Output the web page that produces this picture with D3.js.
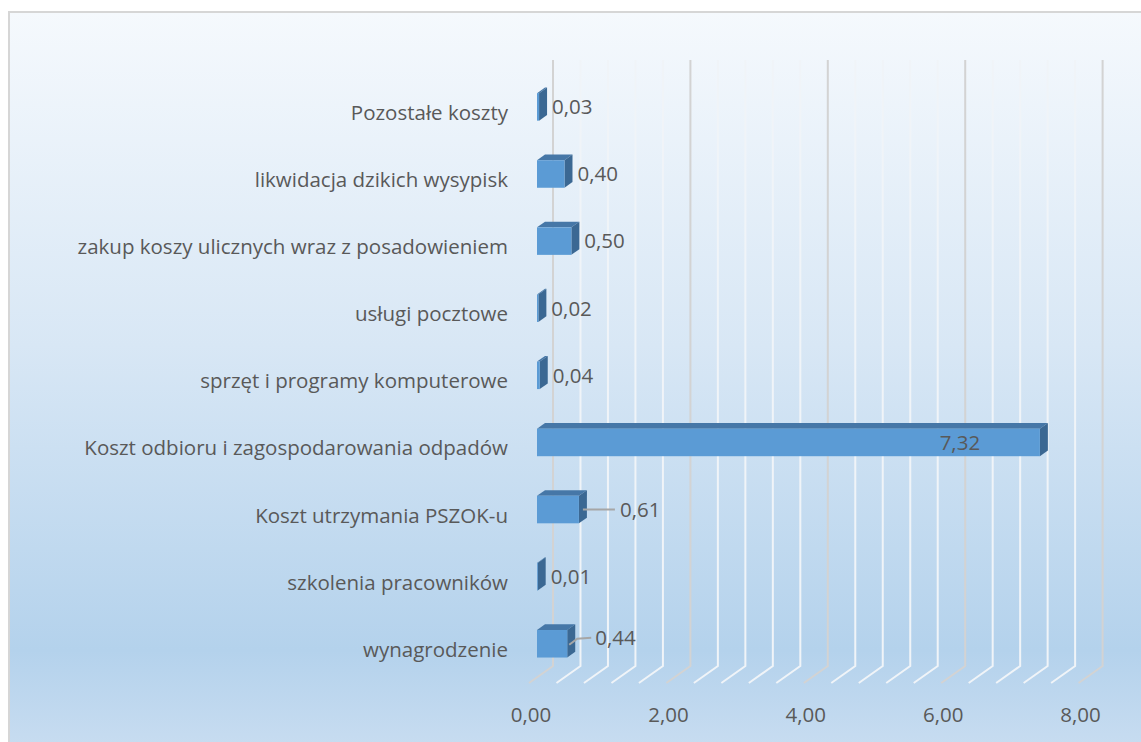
<!DOCTYPE html>
<html>
<head>
<meta charset="utf-8">
<script src="https://cdn.jsdelivr.net/npm/d3@7"></script>
<style>
  html, body { margin: 0; padding: 0; background: #fff; }
  svg text { font-family: "Open Sans", sans-serif; fill: #595959; }
</style>
</head>
<body>
<div id="chart"></div>
<script>
// data, bottom to top as in the picture
const categories = [
  "wynagrodzenie",
  "szkolenia pracowników",
  "Koszt utrzymania PSZOK-u",
  "Koszt odbioru i zagospodarowania odpadów",
  "sprzęt i programy komputerowe",
  "usługi pocztowe",
  "zakup koszy ulicznych wraz z posadowieniem",
  "likwidacja dzikich wysypisk",
  "Pozostałe koszty"
];
const values = [0.44, 0.01, 0.61, 7.32, 0.04, 0.02, 0.50, 0.40, 0.03];
const ticks = [0, 2, 4, 6, 8];
const gridStep = 0.4;

const W = 1141, H = 742;
const fs = 20.5;
const svg = d3.select("#chart").append("svg").attr("width", W).attr("height", H);

// background
const defs = svg.append("defs");
const grad = defs.append("linearGradient").attr("id", "bg")
  .attr("x1", 0).attr("y1", 0).attr("x2", 0).attr("y2", 1);
grad.append("stop").attr("offset", "0%").attr("stop-color", "#f5f9fd");
grad.append("stop").attr("offset", "45%").attr("stop-color", "#d8e7f5");
grad.append("stop").attr("offset", "86%").attr("stop-color", "#b4d2ec");
grad.append("stop").attr("offset", "100%").attr("stop-color", "#c9ddf1");

svg.append("rect").attr("x", 9).attr("y", 12).attr("width", W).attr("height", H)
  .attr("fill", "url(#bg)").attr("stroke", "#d6d6d6").attr("stroke-width", 2);

// front floor plane scales, depth vector to the back wall
const x = d3.scaleLinear().domain([0, 8]).range([529, 1078.6]);
const y = d3.scaleBand().domain(categories).range([683, 79])
  .paddingInner(0.59).paddingOuter(0.295);
const dx = 24, dy = -17;
const floorY = 683;
const wallTop = 60;

// grid: back wall verticals + floor diagonals
const gridVals = d3.range(0, 8 + 1e-9, gridStep);
svg.append("g").selectAll("path").data(gridVals).join("path")
  .attr("d", v => {
    const xb = x(v) + dx;
    return `M${xb},${wallTop}L${xb},${floorY + dy}L${x(v)},${floorY}`;
  })
  .attr("fill", "none")
  .attr("stroke", v => Math.abs(v / 2 - Math.round(v / 2)) < 1e-6 ? "#d3d3d3" : "#f0f4f8")
  .attr("stroke-width", 2);

const fmt = v => d3.format(".2f")(v).replace(".", ",");

// tick labels
svg.append("g").selectAll("text").data(ticks).join("text")
  .attr("x", v => x(v) + 2)
  .attr("y", 722)
  .attr("text-anchor", "middle")
  .attr("font-size", fs)
  .text(fmt);

// category labels
svg.append("g").selectAll("text").data(categories).join("text")
  .attr("x", 508)
  .attr("y", d => y(d) + y.bandwidth() / 2)
  .attr("dy", "0.36em")
  .attr("text-anchor", "end")
  .attr("font-size", fs)
  .text(d => d);

// 3d bars: front face at 1/3 depth, back at 2/3
const bd = { x: dx / 3, y: dy / 3 };
const bars = svg.append("g").selectAll("g")
  .data(categories.map((c, i) => ({ c, v: values[i] })))
  .join("g")
  .attr("transform", `translate(${bd.x},${bd.y})`);

bars.each(function (d) {
  const g = d3.select(this);
  const x0 = x(0), x1 = x(d.v);
  const y0 = y(d.c), h = y.bandwidth();
  g.append("path")
    .attr("d", `M${x0},${y0}L${x0 + bd.x},${y0 + bd.y}L${x1 + bd.x},${y0 + bd.y}L${x1},${y0}Z`)
    .attr("fill", "#4677a7");
  g.append("path")
    .attr("d", `M${x1},${y0}L${x1 + bd.x},${y0 + bd.y}L${x1 + bd.x},${y0 + h + bd.y}L${x1},${y0 + h}Z`)
    .attr("fill", "#3b6893");
  g.append("rect")
    .attr("x", x0).attr("y", y0)
    .attr("width", Math.max(0, x1 - x0)).attr("height", h)
    .attr("fill", "#5b9bd5");
});

// value labels
bars.each(function (d) {
  const g = d3.select(this);
  const cy = y(d.c) + y.bandwidth() / 2;
  const end = x(d.v) + bd.x;
  if (d.v > 5) {
    g.append("text").attr("x", x(d.v) - 80).attr("y", cy).attr("dy", "0.36em")
      .attr("text-anchor", "middle").attr("font-size", fs).text(fmt(d.v));
    return;
  }
  let lx = end + 5;
  if (d.c === "Koszt utrzymania PSZOK-u") {
    g.append("path").attr("d", `M${end - 4},${cy}L${end + 28},${cy}`)
      .attr("stroke", "#a6a6a6").attr("stroke-width", 2).attr("fill", "none");
    lx = end + 33;
  } else if (d.c === "wynagrodzenie") {
    g.append("path").attr("d", `M${end - 6},${cy + 1}L${end + 2},${cy - 5}L${end + 16},${cy - 6}`)
      .attr("stroke", "#a6a6a6").attr("stroke-width", 2).attr("fill", "none");
    lx = end + 20;
  }
  g.append("text").attr("x", lx).attr("y", d.c === "wynagrodzenie" ? cy - 6 : cy).attr("dy", "0.36em")
    .attr("font-size", fs).text(fmt(d.v));
});
</script>
</body>
</html>
